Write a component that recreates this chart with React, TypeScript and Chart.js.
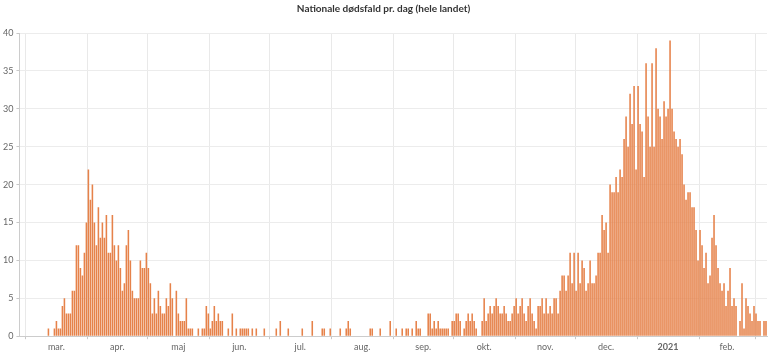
import React, { useEffect, useRef } from 'react';
import { Chart, registerables } from 'chart.js';

Chart.register(...registerables);

const TITLE = 'Nationale dødsfald pr. dag (hele landet)';
const START_DATE = [2020, 1, 27]; // 27 Feb 2020 (year, monthIndex, day)

// daily deaths, one value per day from 27 Feb 2020
const deaths: number[] = [
  0, 0, 0, 0, 0, 0, 0, 0, 0, 0,
  0, 0, 0, 0, 1, 0, 0, 1, 2, 1,
  1, 4, 5, 3, 3, 3, 6, 6, 12, 12,
  9, 8, 11, 15, 22, 18, 20, 15, 12, 17,
  13, 15, 13, 16, 11, 11, 16, 12, 10, 12,
  9, 6, 7, 12, 14, 10, 6, 5, 5, 5,
  10, 9, 9, 11, 9, 7, 3, 5, 3, 6,
  4, 3, 3, 5, 4, 7, 5, 0, 6, 3,
  2, 2, 2, 5, 1, 1, 1, 0, 0, 1,
  0, 1, 1, 4, 3, 1, 2, 4, 2, 3,
  2, 2, 0, 0, 1, 0, 3, 0, 1, 0,
  1, 1, 1, 1, 1, 0, 1, 0, 1, 0,
  0, 0, 1, 0, 0, 0, 0, 0, 1, 0,
  2, 0, 0, 0, 1, 0, 0, 0, 0, 0,
  0, 1, 0, 0, 0, 0, 2, 0, 0, 0,
  0, 1, 1, 0, 0, 1, 0, 0, 0, 0,
  1, 0, 0, 1, 2, 1, 0, 0, 0, 0,
  0, 0, 0, 0, 0, 1, 1, 0, 0, 0,
  1, 0, 0, 0, 0, 2, 0, 0, 1, 0,
  0, 1, 0, 1, 1, 0, 1, 0, 2, 1,
  1, 0, 0, 0, 3, 3, 1, 2, 1, 2,
  1, 1, 1, 1, 1, 0, 2, 2, 3, 3,
  2, 0, 1, 2, 3, 2, 3, 2, 1, 0,
  0, 2, 5, 2, 3, 4, 3, 4, 5, 4,
  3, 3, 4, 3, 2, 2, 3, 4, 5, 3,
  4, 5, 3, 2, 4, 5, 3, 2, 1, 4,
  4, 5, 3, 5, 3, 4, 3, 5, 5, 3,
  6, 8, 8, 6, 8, 11, 7, 11, 6, 11,
  7, 10, 9, 6, 7, 10, 7, 7, 8, 11,
  11, 16, 14, 15, 11, 20, 19, 19, 21, 19,
  22, 21, 26, 29, 25, 32, 28, 33, 22, 33,
  28, 27, 21, 36, 29, 25, 36, 25, 38, 30,
  29, 26, 31, 29, 30, 39, 30, 27, 26, 25,
  26, 24, 20, 18, 19, 19, 17, 17, 14, 10,
  14, 12, 9, 11, 7, 8, 13, 16, 12, 9,
  7, 6, 7, 4, 6, 9, 4, 5, 4, 0,
  2, 7, 1, 5, 4, 3, 2, 4, 3, 2,
  2, 0, 2, 2,
];

const monthNames = ['jan.', 'feb.', 'mar.', 'apr.', 'maj', 'jun.', 'jul.', 'aug.', 'sep.', 'okt.', 'nov.', 'dec.'];
const yMax = 40;
const yStep = 5;

function dayDate(i: number) {
  return new Date(Date.UTC(START_DATE[0], START_DATE[1], START_DATE[2] + i));
}

const dayLabels: string[] = deaths.map((_, i) => dayDate(i).toISOString().slice(0, 10));

type XTick = { value: number; label: string; grid: boolean; bold: boolean };

function buildXTicks(): XTick[] {
  const starts: number[] = [];
  for (let i = 0; i < deaths.length; i++) {
    if (dayDate(i).getUTCDate() === 1) starts.push(i);
  }
  const out: XTick[] = [];
  starts.forEach((s, k) => {
    out.push({ value: s - 0.5, label: '', grid: true, bold: false });
    const e = k + 1 < starts.length ? starts[k + 1] : null;
    if (e !== null) {
      const d = dayDate(s);
      const m = d.getUTCMonth();
      const label = m === 0 ? String(d.getUTCFullYear()) : monthNames[m];
      out.push({ value: (s + e) / 2 - 0.5, label, grid: false, bold: m === 0 });
    }
  });
  return out;
}

const xTicks = buildXTicks();

export default function App() {
  const ref = useRef<HTMLCanvasElement | null>(null);

  useEffect(() => {
    document.body.style.margin = '0';
    const canvas = ref.current;
    if (!canvas) return;
    const chart = new Chart(canvas, {
      type: 'bar',
      data: {
        labels: dayLabels,
        datasets: [
          {
            data: deaths,
            backgroundColor: '#e6824a',
            borderWidth: 0,
            barPercentage: 0.78,
            categoryPercentage: 1,
          },
        ],
      },
      options: {
        responsive: false,
        animation: false,
        devicePixelRatio: 1,
        layout: { padding: { left: 0, right: 3, top: 0, bottom: 0 } },
        plugins: {
          legend: { display: false },
          tooltip: { enabled: false },
          title: {
            display: true,
            text: TITLE,
            color: '#333',
            font: { family: 'Lato', size: 10, weight: 'bold' },
            padding: { top: 3, bottom: 18 },
          },
        },
        scales: {
          x: {
            type: 'category',
            offset: true,
            afterBuildTicks: (scale: any) => {
              scale.ticks = xTicks.map((t) => ({ value: t.value }));
            },
            grid: {
              offset: false,
              color: (ctx: any) => (xTicks[ctx.index] && xTicks[ctx.index].grid ? '#e9e9e9' : 'rgba(0,0,0,0)'),
              tickColor: (ctx: any) => (xTicks[ctx.index] && xTicks[ctx.index].grid ? '#c8c8c8' : 'rgba(0,0,0,0)'),
              tickLength: 3,
            },
            border: { color: '#cccccc' },
            ticks: {
              autoSkip: false,
              maxRotation: 0,
              minRotation: 0,
              padding: 2,
              color: '#666',
              font: (ctx: any) => ({
                family: 'Lato',
                size: 9,
                weight: xTicks[ctx.index] && xTicks[ctx.index].bold ? 'bold' : 'normal',
              }),
              callback: (_v: any, index: number) => (xTicks[index] ? xTicks[index].label : ''),
            },
          },
          y: {
            min: 0,
            max: yMax,
            grid: { color: '#ececec', tickLength: 3, tickColor: '#c8c8c8' },
            border: { color: '#cccccc' },
            ticks: {
              stepSize: yStep,
              padding: 3,
              color: '#666',
              font: { family: 'Lato', size: 9 },
            },
          },
        },
      },
    } as any);
    return () => chart.destroy();
  }, []);

  return (
    <div style={{ width: 770, height: 354 }}>
      <canvas ref={ref} width={770} height={354} style={{ display: 'block' }} />
    </div>
  );
}
